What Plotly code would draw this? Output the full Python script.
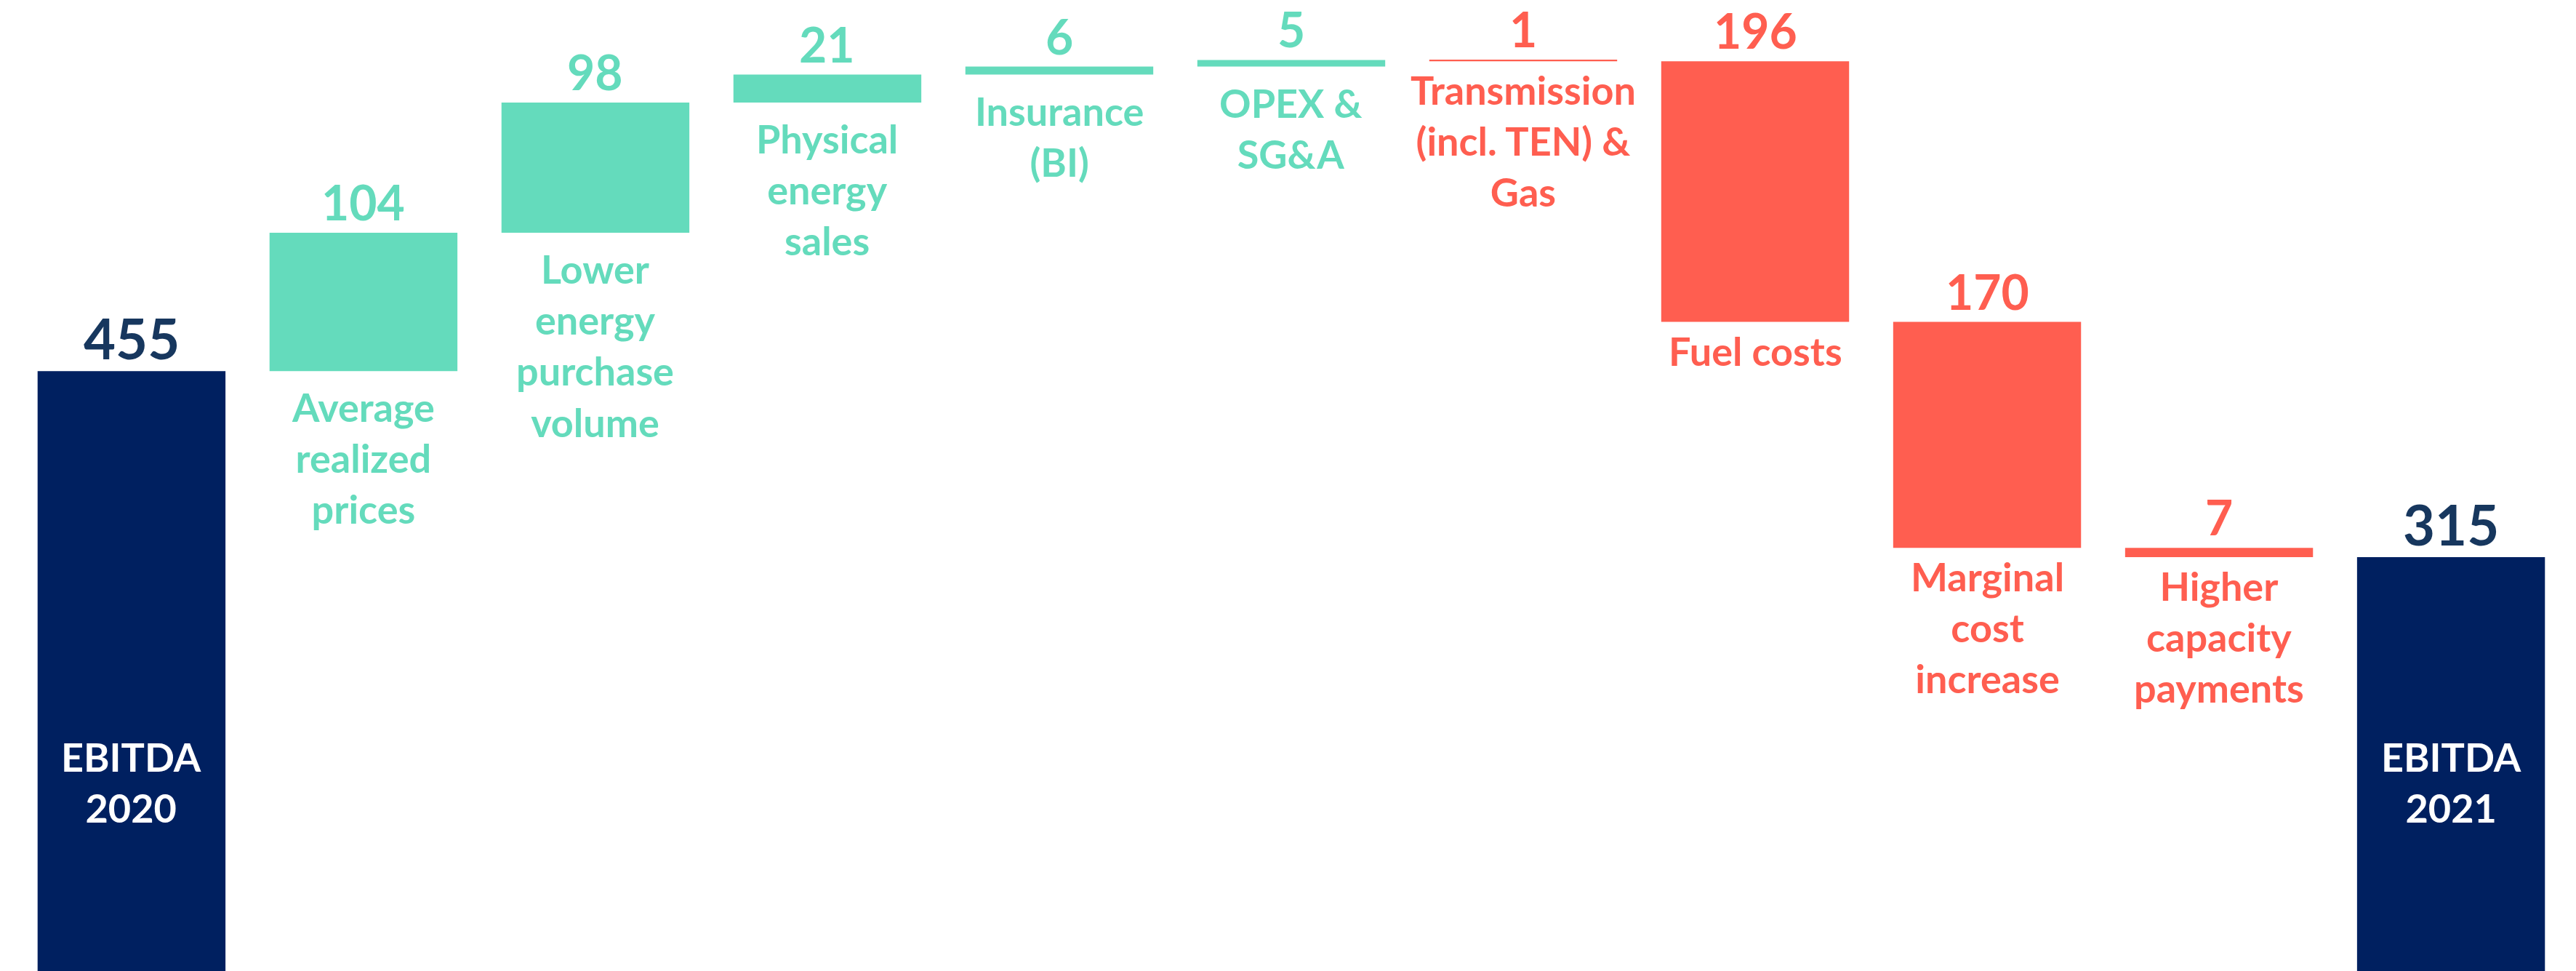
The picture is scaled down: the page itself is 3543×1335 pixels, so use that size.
import numpy as np
import plotly.graph_objects as go

# EBITDA bridge 2020 -> 2021
steps = ["EBITDA<br>2020", "Average<br>realized<br>prices", "Lower<br>energy<br>purchase<br>volume",
         "Physical<br>energy<br>sales", "Insurance<br>(BI)", "OPEX &<br>SG&A",
         "Transmission<br>(incl. TEN) &<br>Gas", "Fuel costs", "Marginal<br>cost<br>increase",
         "Higher<br>capacity<br>payments", "EBITDA<br>2021"]
values = [455, 104, 98, 21, 6, 5, -1, -196, -170, -7, 315]
measures = ["absolute"] + ["relative"] * 9 + ["total"]

NAVY = "#002060"
NAVY_TXT = "#17375E"
GREEN = "#64DBBC"
RED = "#FF5E50"
FONT = "Lato, 'Open Sans', sans-serif"

x = list(range(len(steps)))

fig = go.Figure(go.Waterfall(
    x=x, y=values, measure=measures,
    width=0.81,
    increasing=dict(marker=dict(color=GREEN)),
    decreasing=dict(marker=dict(color=RED)),
    totals=dict(marker=dict(color=NAVY)),
    connector=dict(visible=False),
    hoverinfo="skip",
))

# running totals to place labels at the bar ends
cum = np.cumsum(values[:-1])
starts = np.concatenate([[0], cum[:-1]])
for i, (name, v, m) in enumerate(zip(steps, values, measures)):
    if m == "relative":
        lo = min(starts[i], starts[i] + v)
        hi = max(starts[i], starts[i] + v)
        col = GREEN if v > 0 else RED
        fig.add_annotation(x=i, y=hi, text="<b>%d</b>" % abs(v), showarrow=False,
                           yanchor="bottom", yshift=1,
                           font=dict(family=FONT, size=66, color=col))
        fig.add_annotation(x=i, y=lo, text="<b>%s</b>" % name, showarrow=False,
                           yanchor="top", yshift=-15 if v > 0 else -5,
                           align="center",
                           font=dict(family=FONT, size=54, color=col))
    else:
        fig.add_annotation(x=i, y=v, text="<b>%d</b>" % v, showarrow=False,
                           yanchor="bottom", yshift=-2,
                           font=dict(family=FONT, size=76, color=NAVY_TXT))
        fig.add_annotation(x=i, y=146, text="<b>%s</b>" % name, showarrow=False,
                           yanchor="middle", align="center",
                           font=dict(family=FONT, size=54, color="white"))

# ranges offset a few pixels to make up for the page's body margin
fig.update_layout(
    width=3543, height=1335,
    margin=dict(l=0, r=0, t=0, b=0),
    plot_bgcolor="white", paper_bgcolor="white",
    showlegend=False,
    xaxis=dict(visible=False, range=[-0.542, 10.564]),
    yaxis=dict(visible=False, range=[-0.6, 729.7]),
)

fig.write_html("out.html")
